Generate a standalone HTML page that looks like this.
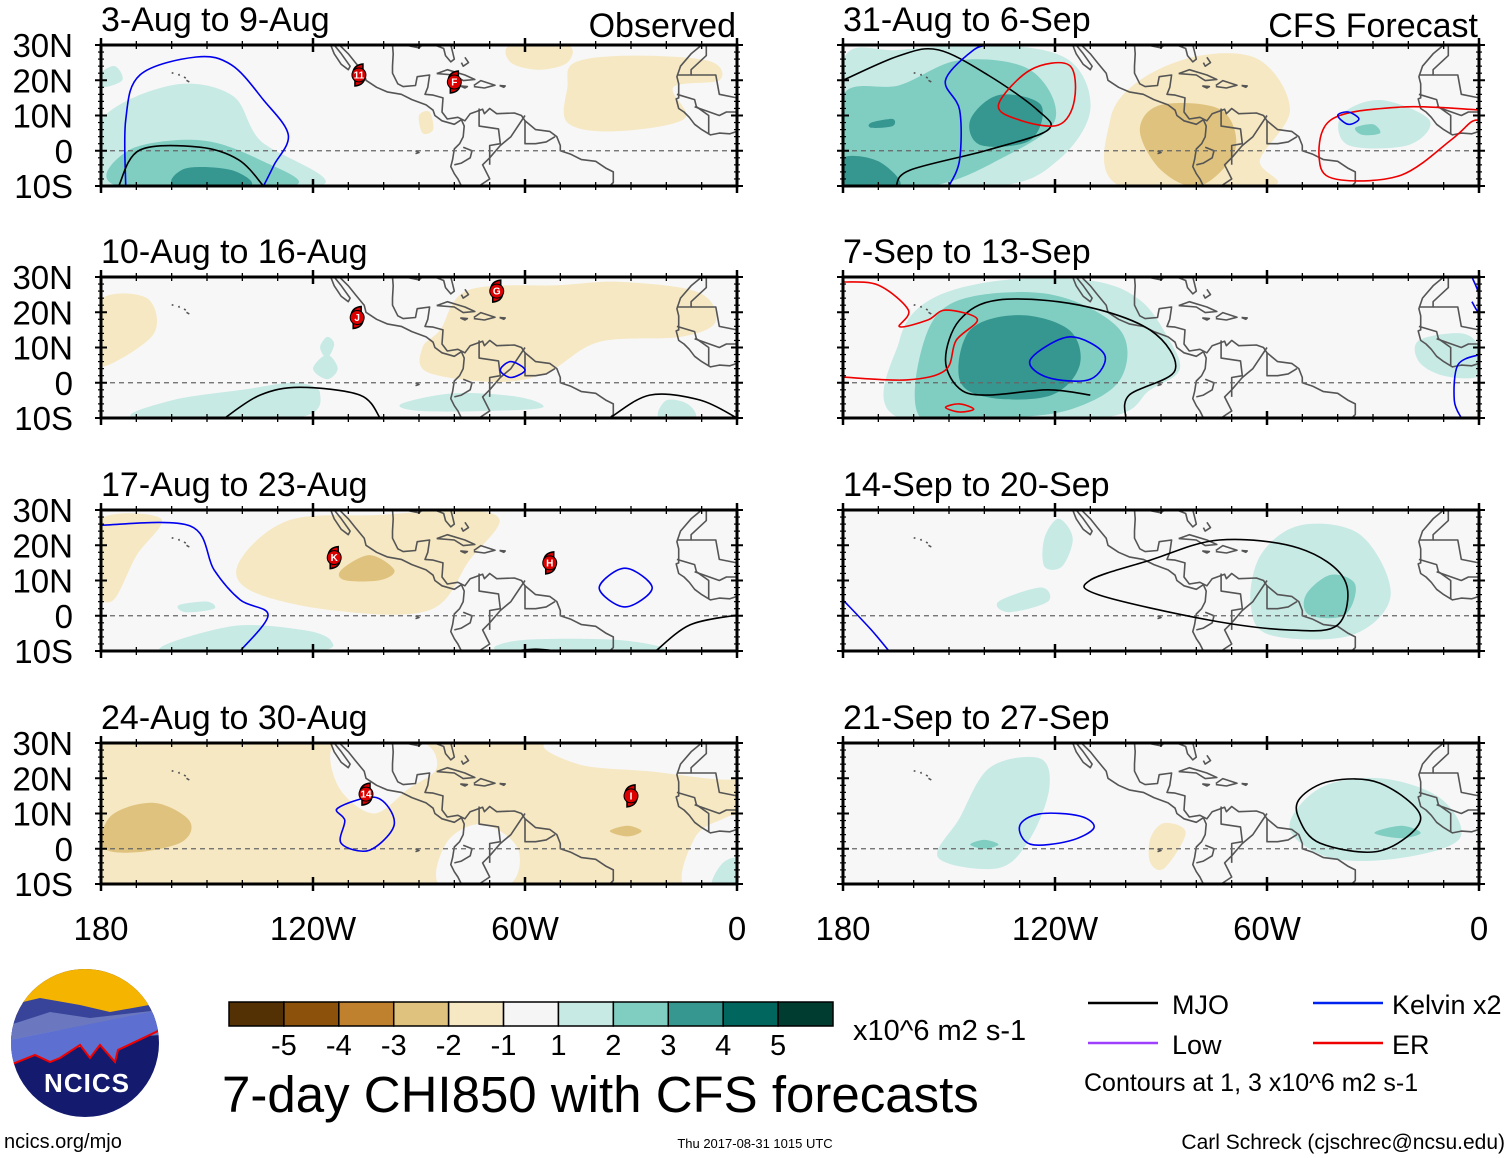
<!DOCTYPE html>
<html><head><meta charset="utf-8">
<style>
body{margin:0;background:#fff;}
svg{display:block;font-family:"Liberation Sans",sans-serif;}
</style></head>
<body>
<svg id="fig" width="1510" height="1158" viewBox="0 0 1510 1158" xmlns="http://www.w3.org/2000/svg">
</svg>
<script>
// ---------------- data ----------------
const panelTitles = ["3-Aug to 9-Aug","31-Aug to 6-Sep","10-Aug to 16-Aug","7-Sep to 13-Sep","17-Aug to 23-Aug","14-Sep to 20-Sep","24-Aug to 30-Aug","21-Sep to 27-Sep"];
const latTicks = [30,20,10,0,-10];
const latLabels = ["30N","20N","10N","0","10S"];
const lonTicks = [-180,-120,-60,0];
const lonLabels = ["180","120W","60W","0"];
const cbarLabels = ["-5","-4","-3","-2","-1","1","2","3","4","5"];
const cbarColors = ["#543005","#8c510a","#bf812d","#dfc27d","#f6e8c3","#f5f5f5","#c7eae5","#80cdc1","#35978f","#01665e","#003c30"];
const levelColor = {"-3":"#bf812d","-2":"#dfc27d","-1":"#f6e8c3","0":"#f7f7f7","1":"#c7eae5","2":"#80cdc1","3":"#35978f"};

const p1Fills = [
 [1,[[-180,-10],[-180,8.7],[-160,18.6],[-143,15.8],[-135,3],[-118,-10]]],
 [1,[[-180,22],[-176,24],[-174,20],[-180,18]]],
 [2,[[-175,-10],[-172,0.2],[-152,3],[-135,-2.6],[-126,-10]]],
 [3,[[-159,-10],[-156,-5],[-143,-5.5],[-138,-10]]],
 [-1,[[-46,25],[-30,27],[-8,25.5],[-5,20],[-18,18],[-15,9],[-35,5.5],[-48,8],[-48,18]]],
 [-1,[[-64,30],[-48,30],[-48,25],[-56,23],[-64,25]]],
 [-1,[[-90,10],[-87,11],[-86,6],[-89,5]]]
];
const p1Lines = [
 ["blue",[[-173,-10],[-173,8.7],[-169,21.5],[-153,26.6],[-143,24.3],[-134,14.4],[-127,4.5],[-131,-4],[-134,-10]]],
 ["black",[[-175,-10],[-169,0.2],[-152,1],[-141,-2.6],[-134,-10]]]
];
const p2Fills = [
 [1,[[-180,-10],[-180,25.7],[-164,28.6],[-136,30],[-116,25.7],[-110,11.6],[-119,-2.6],[-136,-10]]],
 [2,[[-180,-10],[-180,15.8],[-164,18.6],[-147,25.7],[-127,22.9],[-120,8.7],[-136,-2.6],[-155,-10]]],
 [3,[[-144,8.7],[-136,15.8],[-124,13],[-127,3],[-141,1.6]]],
 [3,[[-180,-10],[-180,-2],[-170,-3],[-164,-10]]],
 [3,[[-172,8],[-166,9],[-166,7],[-172,6.5]]],
 [-1,[[-104.4,8.7],[-96,20],[-79,27],[-62,25.7],[-53.5,11.6],[-62,-2.6],[-59,-10],[-101.5,-10]]],
 [-2,[[-96,5.9],[-90,13],[-73,11.6],[-69,0.2],[-79,-10],[-90,-5.5]]],
 [1,[[-39,10],[-28,14.4],[-14,8.7],[-20,1.6],[-37,1.6]]],
 [2,[[-35,6.5],[-30,7.5],[-28,5],[-33,4.5]]]
];
const p2Lines = [
 ["black",[[-180,20],[-164,27],[-153,28.6],[-139,21.5],[-125,11.6],[-122,5.9],[-139,0.2],[-161,-5.5],[-165,-10]]],
 ["blue",[[-150,-10],[-147,-2.6],[-147,11.6],[-151,20],[-143,28.6],[-138,30]]],
 ["redc",[[-136,13],[-127,22.9],[-116,24.3],[-114.5,14.4],[-119,7.3],[-130,8.7]]],
 ["red",[[0,11.6],[-22,12.4],[-42,8.7],[-45,-4],[-39,-8.3],[-22,-6.9],[-8,3],[-2.3,8.1],[0,8.7]]],
 ["bluec",[[-40,10],[-37,11],[-34,9],[-37,7.5]]]
];
const p3Fills = [
 [-1,[[-180,23.5],[-167,24],[-165,14],[-178,5],[-180,8]]],
 [-1,[[-84,15],[-76,26.3],[-50,27.7],[-33,28.6],[-11,25.7],[-6,17.4],[-16,13],[-39,11.6],[-53.6,3],[-67.7,0.2],[-87.6,3],[-89,10]]],
 [1,[[-170,-10],[-160,-5],[-140,-2],[-125,0],[-118,-3],[-125,-10]]],
 [1,[[-120,4],[-116,8],[-113,4],[-116,1]]],
 [1,[[-95,-6],[-80,-3],[-62,-4],[-55,-7],[-70,-8],[-90,-8]]],
 [1,[[-22,-10],[-20,-5],[-14,-6],[-12,-10]]],
 [1,[[-118,10],[-116,13],[-114,11],[-116,7]]]
];
const p3Lines = [
 ["black",[[-145,-10],[-135,-3.5],[-123.7,-1.3],[-106.7,-3.5],[-101,-10]]],
 ["black",[[-36,-10],[-24.7,-3.5],[-10.5,-4.9],[0,-10]]],
 ["bluec",[[-67,3.6],[-64,6],[-60,3.6],[-64,1.5]]]
];
const p4Fills = [
 [1,[[-164,-10],[-164,12],[-155.4,23.5],[-135.6,29],[-110,29],[-96,23.5],[-87.6,12],[-84.8,3.6],[-93,-2],[-107,-10]]],
 [1,[[-17,12],[-5,14],[0,10],[0,2],[-10,2],[-17,6]]],
 [2,[[-158,-10],[-157,12],[-147,23.5],[-121,25],[-101.6,15],[-101.6,0.8],[-116,-7.7],[-136,-10]]],
 [3,[[-147,0.8],[-144,15],[-130,19.2],[-116,15],[-113,5],[-121,-3.5],[-138,-4.3]]]
];
const p4Lines = [
 ["black",[[-100,-10],[-99,-3.5],[-86,3.6],[-93,14.9],[-113,22],[-136,23.5],[-147,17.8],[-151,6.5],[-147,-1.7],[-139,-3.5],[-122,-2],[-110,-3.5]]],
 ["bluec",[[-127,6.5],[-116,13],[-106,8],[-110,1],[-122,1.5]]],
 ["red",[[-180,28.6],[-170,27.7],[-161.5,20.6],[-164,15.9],[-156,17.8],[-151,20.6],[-142,18],[-148,12],[-151,3.6],[-162,0.8],[-180,1.6]]],
 ["redc",[[-151,-7],[-147,-6],[-143,-7.5],[-147,-8.3]]],
 ["blue",[[-2,30],[0,25],[0,20],[-2,23]]],
 ["blue",[[0,8],[-6,5],[-7,-5],[-5,-10]]]
];
const p5Fills = [
 [-1,[[-180,13],[-180,27.5],[-163,27.5],[-170,17],[-176,5],[-180,5]]],
 [-1,[[-140.6,15.8],[-126.5,27.2],[-101,28.6],[-78.6,30],[-67.2,27.2],[-75.7,15.8],[-87,1.6],[-115,1.6],[-138,7.3]]],
 [-2,[[-112,13],[-104,17.2],[-97,13],[-101,10.1],[-111,10.1]]],
 [1,[[-163,-10],[-143,-3],[-123,-4],[-115,-7],[-120,-10]]],
 [1,[[-66,-10],[-61,-6.9],[-33,-6.9],[-22,-10]]],
 [1,[[-158,3],[-150,4],[-148,2],[-156,1]]]
];
const p5Lines = [
 ["blue",[[-180,25.7],[-154.8,25.5],[-148,13],[-140.6,4.5],[-132.7,0.2],[-140.6,-10]]],
 ["bluec",[[-39,7.9],[-31.7,13.5],[-24,7.9],[-31.7,2.5]]],
 ["black",[[-23,-10],[-13.3,-2.6],[0,0.2]]],
 ["black",[[-63,-10],[-57,-9.5],[-51,-10]]]
];
const p6Fills = [
 [1,[[-123,22],[-119,27.5],[-115,22],[-118,14],[-123,14]]],
 [1,[[-136,4],[-124,8],[-122,4],[-133,1]]],
 [1,[[-64.6,3],[-61.8,17.2],[-50.5,25.7],[-33.5,22.9],[-25,5.9],[-36,-5.5],[-59,-5.5]]],
 [2,[[-49,5.9],[-42,11.6],[-35,8.8],[-38,0.2],[-48,0.2]]]
];
const p6Lines = [
 ["blackc",[[-110,10.1],[-93,15.8],[-73.5,21.5],[-51,19.2],[-38,10.1],[-40,-2.6],[-54,-4],[-76.5,-1.2],[-107.5,5.9]]],
 ["blue",[[-180,4.5],[-172,-4],[-167,-10]]]
];
const p7Fills = [
 [-1,[[-181,-11],[-181,31],[1,31],[1,-11]]],
 [0,[[-113,30.5],[-90,30.5],[-85,23],[-93,17],[-103,10],[-113,18]]],
 [0,[[-84,-10.5],[-82,2],[-72,7],[-62,0],[-65,-10.5]]],
 [0,[[-52,30.5],[1,30.5],[1,20],[-25,22],[-45,24]]],
 [0,[[-15,-10.5],[-12,3],[-5,8],[1,8],[1,-10.5]]],
 [-2,[[-179.5,0.5],[-177,9.5],[-165,13],[-155,8],[-157,2],[-170,-1]]],
 [-2,[[-36,5],[-31,6.5],[-27,5],[-31,3.5]]],
 [1,[[-7,-10.5],[-4,-4],[1,-3],[1,-10.5]]]
];
const p7Lines = [
 ["bluec",[[-113,11.5],[-102,14.5],[-97,7],[-104,-0.4],[-112,1.5],[-111,8]]]
];
const p8Fills = [
 [1,[[-147,8.7],[-138.5,23],[-124.4,25.7],[-121.6,17.2],[-127,3],[-136,-5.5],[-153,-2.6]]],
 [2,[[-144,1.2],[-140,2.5],[-136,1.2],[-140,0]]],
 [-1,[[-93,3],[-89,7.3],[-83,4.5],[-89,-5.5],[-93,-4]]],
 [1,[[-53.6,5.9],[-45,17.2],[-28,20],[-11,14.4],[-5.4,3],[-22,-2.6],[-42,-2.6]]],
 [2,[[-29.6,4.5],[-22,6.5],[-16.5,4.5],[-22,3]]]
];
const p8Lines = [
 ["blackc",[[-50.6,14.4],[-42,19.2],[-28,18.6],[-16.5,8.7],[-28,-0.6],[-45,1.6],[-51,8.7]]],
 ["bluec",[[-130,6.5],[-124.4,9.9],[-113,9.3],[-109,5.9],[-116,2.2],[-127,1.3]]]
];
const storms = [[0,-107,21.5,"11"],[0,-80,19.5,"F"],[2,-107.5,18.5,"J"],[2,-68,26,"G"],[4,-114,16.5,"K"],[4,-53,15,"H"],[6,-105,15.5,"14"],[6,-30,15,"I"]];
const panelFills = [p1Fills,p2Fills,p3Fills,p4Fills,p5Fills,p6Fills,p7Fills,p8Fills];
const panelLines = [p1Lines,p2Lines,p3Lines,p4Lines,p5Lines,p6Lines,p7Lines,p8Lines];

const coasts = [
 [[-114,30],[-112,27.5],[-109.5,24],[-110,23],[-112,24.5],[-114,27.5],[-115,30]],
 [[-112.5,30],[-110,27.5],[-108,25],[-105.5,22],[-105,20],[-102,18],[-99,16.7],[-95,16],[-92,14.5],[-88,13],[-86,11.5],[-85.5,10],[-83.5,8.5],[-80,7.5],[-78,8.8],[-77.2,7],[-77.5,4],[-78.5,2],[-80,0.5],[-80.5,-2.5],[-81,-4.5],[-80,-6.5],[-79,-8],[-78,-10]],
 [[-97.5,30],[-97.3,27.5],[-97.5,24],[-97.5,22],[-96,19],[-94.5,18.2],[-91,18.5],[-90.5,21],[-87,21.5],[-87.5,18],[-88.3,16],[-86,15.8],[-83.2,15],[-83.5,11],[-82,9],[-79,9.5],[-77,8.5],[-75.5,10.5],[-72,11.8],[-71.5,10.5],[-70,12],[-68,10.5],[-63,10.7],[-61,10],[-60,8.5],[-57,6],[-53,5.5],[-51,4],[-50,1.5],[-50,0],[-47,-1],[-44,-2.5],[-40,-3],[-37,-5],[-35,-6],[-35,-9],[-36,-10]],
 [[-94,30],[-90,29.2],[-89,30],[-85,29.8],[-83,29],[-82.5,27],[-81,25.2],[-80,26],[-80.5,28],[-81,30]],
 [[-85,21.9],[-82,23],[-77,21.5],[-74.2,20.2],[-77.5,19.9],[-80,21.5],[-85,21.9]],
 [[-74.5,18.5],[-72.5,19.9],[-68.5,18.6],[-71.5,17.8],[-74.5,18.2]],
 [[-78.3,18.4],[-76.3,18.2],[-77,17.8],[-78.3,18.4]],
 [[-67.2,18.5],[-65.6,18.4],[-66,18],[-67.2,18.5]],
 [[-78,25],[-77.5,24],[-76,25],[-77,26.5]],
 [[-10,30],[-13,27.5],[-16,24],[-17,21],[-16.5,19],[-16.5,15],[-17.2,14.7],[-16.5,12],[-15,11],[-13.5,9.5],[-12,7.5],[-10,6],[-7.5,4.5],[-5,5],[-2,4.8],[0,5.5]],
 [[-17,21.5],[-13,21.5],[-13,23],[-8.7,27],[-8.7,30]],
 [[-13,21.5],[-6,21.5],[-5,16],[0,15]],
 [[-17,16],[-12,14.5],[-11.5,12.5],[-8,10],[-8,4.8]],
 [[-12,12.5],[-5,10],[-3,11],[0,11]],
 [[-60,10],[-64,4],[-67,1.5],[-70,-2],[-72,-4],[-70,-8],[-73,-10]],
 [[-60,8.5],[-60,2],[-57,2],[-54,2.5],[-51.5,4]],
 [[-73,12],[-73,7],[-67.5,6.2],[-67,2],[-70,1.5],[-70,-4]],
 [[-77.5,1],[-75,0],[-75.5,-2],[-78,-3.5],[-80,-4]],
 [[-91,0],[-90,-0.5],[-91,-0.8]],
 [[-158,21.8],[-157.8,21.3]],[[-156.5,20.9],[-156,20.6]],[[-155.8,20],[-155,19.5]],[[-160,22.1],[-159.5,22]]
];

// ---------------- drawing ----------------
const NS="http://www.w3.org/2000/svg";
const svg=document.getElementById('fig');
function el(tag,attrs,parent){const e=document.createElementNS(NS,tag);for(const k in attrs)e.setAttribute(k,attrs[k]);(parent||svg).appendChild(e);return e;}
const PW=636, PH=141;
const colX=[101,843], rowY=[45,277,510,743];
function smoothPath(pts,closed,X,Y){
  const P=pts.map(p=>[X(p[0]),Y(p[1])]);
  const n=P.length;let d="M"+P[0][0].toFixed(1)+","+P[0][1].toFixed(1);
  const segs=closed?n:n-1;
  for(let i=0;i<segs;i++){
    const p0=P[closed?(i-1+n)%n:Math.max(i-1,0)],p1=P[i],p2=P[(i+1)%n],p3=P[closed?(i+2)%n:Math.min(i+2,n-1)];
    const c1=[p1[0]+(p2[0]-p0[0])/6,p1[1]+(p2[1]-p0[1])/6],c2=[p2[0]-(p3[0]-p1[0])/6,p2[1]-(p3[1]-p1[1])/6];
    d+="C"+c1.map(v=>v.toFixed(1))+" "+c2.map(v=>v.toFixed(1))+" "+p2.map(v=>v.toFixed(1));
  }
  return d+(closed?"Z":"");
}
const defs=el('defs',{});
for(let k=0;k<8;k++){
  const x0=colX[k%2], y0=rowY[Math.floor(k/2)];
  const X=lon=>x0+(lon+180)/180*PW, Y=lat=>y0+(30-lat)/40*PH;
  const cp=el('clipPath',{id:'clip'+k},defs);el('rect',{x:x0,y:y0,width:PW,height:PH},cp);
  const g=el('g',{'clip-path':'url(#clip'+k+')'});
  
  
  el('rect',{x:x0,y:y0,width:PW,height:PH,fill:'#f7f7f7'},g);
  panelFills[k].forEach((f,i)=>{
    const p=el('path',{d:smoothPath(f[1],true,X,Y),fill:levelColor[String(f[0])]},g);
    
    
  });
  coasts.forEach(c=>{el('path',{d:"M"+c.map(p=>X(p[0]).toFixed(1)+","+Y(p[1]).toFixed(1)).join("L"),fill:'none',stroke:'#555',"stroke-width":1.6,"stroke-linejoin":"round"},g);});
  el('line',{x1:x0,x2:x0+PW,y1:Y(0),y2:Y(0),stroke:'#666',"stroke-width":1.3,"stroke-dasharray":"5,4"},g);
  panelLines[k].forEach(l=>{
    const t=l[0],closed=t.endsWith('c'),col={black:'#000',blue:'#0000ee',red:'#ee0000'}[closed?t.slice(0,-1):t];
    const p=el('path',{d:smoothPath(l[1],closed,X,Y),fill:'none',stroke:col,"stroke-width":1.6},g);
    
    
  });
  storms.filter(s=>s[0]===k).forEach(s=>{
    const sx=X(s[1]),sy=Y(s[2]);
    const sg=el('g',{},g);
    
    
    el('path',{d:`M${sx+4},${sy-11} C${sx-7},${sy-10} ${sx-8},${sy} ${sx-4},${sy+6} L${sx-4},${sy+11} C${sx+7},${sy+10} ${sx+8},${sy} ${sx+4},${sy-6}Z`,fill:'#d00',stroke:'#000',"stroke-width":1.5},sg);
    el('circle',{cx:sx,cy:sy,r:7,fill:'#d00',stroke:'#000',"stroke-width":1},sg);
    const tt=el('text',{x:sx,y:sy+3.5,"font-size":10,"font-weight":"bold",fill:'#fff',"text-anchor":"middle"},sg);tt.textContent=s[3];
  });
  const fr=el('rect',{x:x0,y:y0,width:PW,height:PH,fill:'none',stroke:'#000',"stroke-width":3});
  
  
  for(let lon=-180;lon<=0;lon+=10){const major=lon%60===0,L=major?7:4;
    el('line',{x1:X(lon),x2:X(lon),y1:y0-L,y2:y0+L,stroke:'#000',"stroke-width":major?2.5:1.3});
    el('line',{x1:X(lon),x2:X(lon),y1:y0+PH-L,y2:y0+PH+L,stroke:'#000',"stroke-width":major?2.5:1.3});}
  for(let lat=-10;lat<=30;lat+=2){const major=lat%10===0,L=major?6:3;
    el('line',{x1:x0-L,x2:x0+L,y1:Y(lat),y2:Y(lat),stroke:'#000',"stroke-width":major?2:1.2});
    el('line',{x1:x0+PW-L,x2:x0+PW+L,y1:Y(lat),y2:Y(lat),stroke:'#000',"stroke-width":major?2:1.2});}
  const ti=el('text',{x:x0,y:y0-14,"font-size":34,fill:'#000'});ti.textContent=panelTitles[k];
  
  
  if(k%2===0){latTicks.forEach((lat,i)=>{const t=el('text',{x:73,y:Y(lat)+12,"font-size":33,"text-anchor":"end"});t.textContent=latLabels[i];
    
    });}
  if(k>=6){lonTicks.forEach((lon,i)=>{const t=el('text',{x:X(lon),y:940,"font-size":33,"text-anchor":"middle"});t.textContent=lonLabels[i];
    
    });}
}
let t=el('text',{x:736,y:37,"font-size":34,"text-anchor":"end"});t.textContent="Observed";

t=el('text',{x:1478,y:37,"font-size":34,"text-anchor":"end"});t.textContent="CFS Forecast";


const cbX=229,cbW=604/11;
const cb=el('g',{});


cbarColors.forEach((c,i)=>el('rect',{x:cbX+i*cbW,y:1002,width:cbW,height:24,fill:c,stroke:'#000',"stroke-width":1.5},cb));
cbarLabels.forEach((l,i)=>{const tt=el('text',{x:cbX+(i+1)*cbW,y:1055,"font-size":29,"text-anchor":"middle"},cb);tt.textContent=l;});
t=el('text',{x:853,y:1040,"font-size":29});t.textContent="x10^6 m2 s-1";

t=el('text',{x:222,y:1112,"font-size":51});t.textContent="7-day CHI850 with CFS forecasts";


const lg=el('g',{});


[[1088,1003,'#000','MJO',1172],[1313,1003,'#0022ee','Kelvin x2',1392],[1088,1043,'#a040ff','Low',1172],[1313,1043,'#ee0000','ER',1392]].forEach(e=>{
  el('line',{x1:e[0],x2:e[0]+70,y1:e[1],y2:e[1],stroke:e[2],"stroke-width":2.5},lg);
  const tt=el('text',{x:e[4],y:e[1]+11,"font-size":27},lg);tt.textContent=e[3];});
t=el('text',{x:1084,y:1091,"font-size":25},lg);t.textContent="Contours at 1, 3 x10^6 m2 s-1";
t=el('text',{x:1505,y:1149,"font-size":21,"text-anchor":"end"});t.textContent="Carl Schreck (cjschrec@ncsu.edu)";

t=el('text',{x:755,y:1148,"font-size":13,"text-anchor":"middle"});t.textContent="Thu 2017-08-31 1015 UTC";

t=el('text',{x:4,y:1148,"font-size":20});t.textContent="ncics.org/mjo";


const lo=el('g',{});


const lc=el('clipPath',{id:'logoclip'},defs);el('circle',{cx:85,cy:1043,r:74},lc);
const lg2=el('g',{'clip-path':'url(#logoclip)'},lo);
el('rect',{x:10,y:968,width:150,height:150,fill:'#141a6e'},lg2);
el('rect',{x:10,y:968,width:150,height:50,fill:'#f5b400'},lg2);
el('path',{d:"M10,1005 L40,998 L80,1005 L110,1012 L160,1003 L160,1030 L10,1040Z",fill:'#37449a'},lg2);
el('path',{d:"M10,1025 L50,1012 L90,1018 L160,1010 L160,1035 L10,1045Z",fill:'#6b78c0'},lg2);
el('path',{d:"M10,1040 L60,1030 L100,1035 L160,1032 L10,1060Z",fill:'#9aa4dc'},lg2);
el('path',{d:"M10,1065 L35,1055 L50,1062 L60,1058 L80,1045 L90,1058 L100,1045 L115,1062 L118,1050 L160,1030 L160,1010 L10,1040Z",fill:'#5d6fd0'},lg2);
el('path',{d:"M10,1065 L35,1055 L50,1062 L60,1058 L80,1045 L90,1058 L100,1045 L115,1062 L118,1050 L160,1030",fill:'none',stroke:'#e00',"stroke-width":2},lg2);
const nt=el('text',{x:87,y:1092,"font-size":26,"font-weight":"bold",fill:'#fff',"text-anchor":"middle","letter-spacing":"1"},lo);nt.textContent="NCICS";
</script>
</body></html>
